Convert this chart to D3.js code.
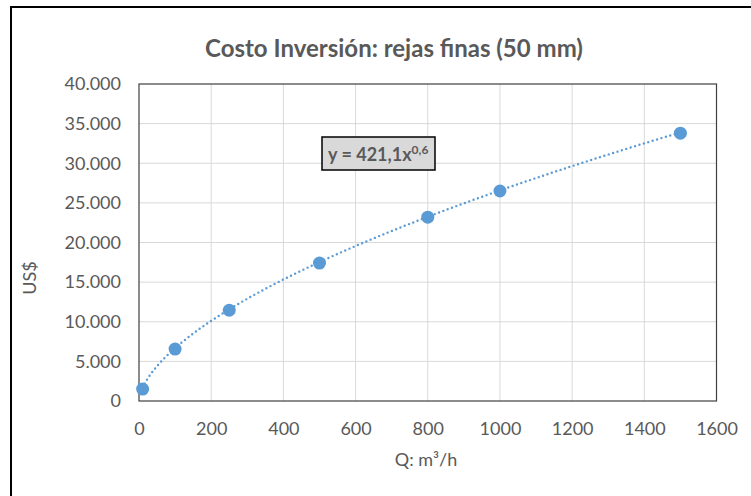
<!DOCTYPE html>
<html>
<head>
<meta charset="utf-8">
<script src="https://cdn.jsdelivr.net/npm/d3@7"></script>
<style>
  html, body { margin: 0; padding: 0; background: #fff; }
  svg { display: block; font-family: Lato, "Open Sans", sans-serif; }
</style>
</head>
<body>
<svg id="chart" width="751" height="496"></svg>
<script>
// Caudal (m3/h) and investment cost (US$)
const flows = [10, 100, 250, 500, 800, 1000, 1500];
const costs = [1500, 6550, 11450, 17400, 23200, 26500, 33800];

// Power trendline y = a * x^b
const trendCoef = [421.1];
const trendExp = [0.6];

const xTicks = [0, 200, 400, 600, 800, 1000, 1200, 1400, 1600];
const yTicks = [0, 5000, 10000, 15000, 20000, 25000, 30000, 35000, 40000];

const titleText = "Costo Inversión: rejas finas (50 mm)";
const xLabel = "Q: m³/h";
const yLabel = "US$";

const svg = d3.select("#chart");
const plot = { left: 139, right: 716.5, top: 84, bottom: 401 };
const textColor = "#595959";
const blue = "#5b9bd5";
const fontStack = "Lato, 'Open Sans', sans-serif";

const x = d3.scaleLinear().domain([0, 1600]).range([plot.left, plot.right]);
const y = d3.scaleLinear().domain([0, 40000]).range([plot.bottom, plot.top]);

const fmtY = v => d3.format(",")(v).replace(/,/g, ".");
const fmtX = d3.format("d");

// outer chart frame
svg.append("rect")
  .attr("x", 11).attr("y", 7).attr("width", 800).attr("height", 600)
  .attr("fill", "none").attr("stroke", "#000").attr("stroke-width", 2);

// title
svg.append("text")
  .attr("x", 394).attr("y", 57)
  .attr("text-anchor", "middle")
  .attr("font-size", 24).attr("font-weight", "bold")
  .attr("fill", textColor)
  .text(titleText);

// gridlines
const grid = svg.append("g");
grid.selectAll("line.v").data(xTicks.slice(1, -1)).join("line")
  .attr("x1", d => x(d)).attr("x2", d => x(d))
  .attr("y1", plot.top).attr("y2", plot.bottom)
  .attr("stroke", "#d9d9d9").attr("stroke-width", 1);
grid.selectAll("line.h").data(yTicks.slice(1, -1)).join("line")
  .attr("x1", plot.left).attr("x2", plot.right)
  .attr("y1", d => y(d)).attr("y2", d => y(d))
  .attr("stroke", "#d9d9d9").attr("stroke-width", 1);

// plot area frame
svg.append("rect")
  .attr("x", plot.left).attr("y", plot.top)
  .attr("width", plot.right - plot.left).attr("height", plot.bottom - plot.top)
  .attr("fill", "none").attr("stroke", "#404040").attr("stroke-width", 1.2);

// axes (labels only, frame drawn above)
const xAxis = svg.append("g")
  .attr("transform", `translate(0,${plot.bottom})`)
  .call(d3.axisBottom(x).tickValues(xTicks).tickFormat(fmtX).tickSize(0).tickPadding(21));
xAxis.select(".domain").remove();
xAxis.selectAll("text").attr("font-size", 18).attr("fill", textColor)
  .attr("font-family", fontStack);

const yAxis = svg.append("g")
  .attr("transform", `translate(${plot.left},0)`)
  .call(d3.axisLeft(y).tickValues(yTicks).tickFormat(fmtY).tickSize(0).tickPadding(18));
yAxis.select(".domain").remove();
yAxis.selectAll("text").attr("font-size", 18).attr("fill", textColor)
  .attr("font-family", fontStack);

// axis titles
svg.append("text")
  .attr("x", 426).attr("y", 466)
  .attr("text-anchor", "middle")
  .attr("font-size", 18).attr("fill", textColor)
  .text(xLabel);
svg.append("text")
  .attr("transform", "translate(36,278) rotate(-90)")
  .attr("text-anchor", "middle")
  .attr("font-size", 18).attr("fill", textColor)
  .text(yLabel);

// power trendline over the data range
const xMin = d3.min(flows), xMax = d3.max(flows);
const trendPts = d3.range(0, 201).map(i => {
  const q = xMin + (xMax - xMin) * i / 200;
  return [q, trendCoef[0] * Math.pow(q, trendExp[0])];
});
svg.append("path")
  .datum(trendPts)
  .attr("d", d3.line().x(d => x(d[0])).y(d => y(d[1])))
  .attr("fill", "none")
  .attr("stroke", blue).attr("stroke-width", 2.4)
  .attr("stroke-linecap", "round")
  .attr("stroke-dasharray", "0 4.6");

// data markers
svg.append("g").selectAll("circle")
  .data(flows.map((f, i) => [f, costs[i]]))
  .join("circle")
  .attr("cx", d => x(d[0])).attr("cy", d => y(d[1]))
  .attr("r", 6.5)
  .attr("fill", blue);

// equation label
const eq = svg.append("g");
eq.append("rect")
  .attr("x", 322).attr("y", 137).attr("width", 113).attr("height", 33)
  .attr("fill", "#d9d9d9").attr("stroke", "#000").attr("stroke-width", 1.5);
const eqText = eq.append("text")
  .attr("x", 328).attr("y", 161)
  .attr("font-size", 18).attr("font-weight", "bold")
  .attr("fill", textColor);
eqText.append("tspan").text(`y = ${String(trendCoef[0]).replace(".", ",")}x`);
eqText.append("tspan")
  .attr("dy", -7).attr("font-size", 12)
  .text(String(trendExp[0]).replace(".", ","));
</script>
</body>
</html>
